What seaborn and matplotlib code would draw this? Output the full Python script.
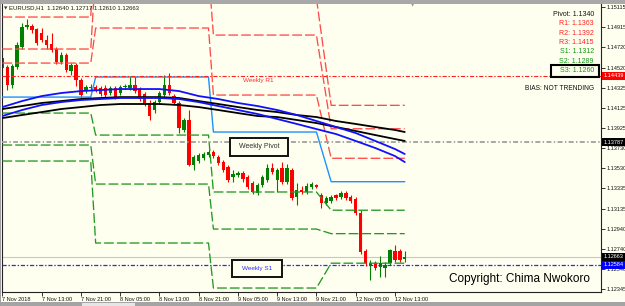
import matplotlib
matplotlib.use("Agg")
import matplotlib.pyplot as plt
from matplotlib.patches import Rectangle
import numpy as np
import pandas as pd
import seaborn as sns

# ---------------- data ----------------
bar_open = [1.14614, 1.14526, 1.14349, 1.14526, 1.14722, 1.14919, 1.14929, 1.14899, 1.14860, 1.14791,
            1.14752, 1.14703, 1.14575, 1.14644, 1.14487, 1.14546, 1.14398, 1.14290, 1.14320, 1.14330,
            1.14320, 1.14320, 1.14271, 1.14320, 1.14271, 1.14330, 1.14320, 1.14349, 1.14310, 1.14261,
            1.14173, 1.14104, 1.14182, 1.14251, 1.14349, 1.14241, 1.14173, 1.13908, 1.14006, 1.13564,
            1.13603, 1.13632, 1.13662, 1.13691, 1.13642, 1.13593, 1.13544, 1.13446, 1.13466, 1.13485,
            1.13446, 1.13387, 1.13289, 1.13367, 1.13416, 1.13534, 1.13416, 1.13534, 1.13397, 1.13515,
            1.13250, 1.13318, 1.13299, 1.13348, 1.13367, 1.13269, 1.13191, 1.13210, 1.13269, 1.13250,
            1.13289, 1.13250, 1.13230, 1.13093, 1.12719, 1.12581, 1.12601, 1.12562, 1.12553, 1.12601,
            1.12719, 1.12719, 1.12640]
bar_high = [1.14644, 1.14546, 1.14555, 1.14772, 1.14958, 1.14997, 1.14948, 1.14909, 1.14909, 1.14840,
            1.14860, 1.14722, 1.14673, 1.14664, 1.14565, 1.14565, 1.14418, 1.14349, 1.14359, 1.14349,
            1.14340, 1.14349, 1.14340, 1.14340, 1.14349, 1.14359, 1.14438, 1.14438, 1.14330, 1.14281,
            1.14202, 1.14202, 1.14290, 1.14448, 1.14467, 1.14261, 1.14192, 1.14025, 1.14104, 1.13662,
            1.13682, 1.13691, 1.13711, 1.13711, 1.13662, 1.13613, 1.13564, 1.13515, 1.13505, 1.13505,
            1.13466, 1.13407, 1.13387, 1.13466, 1.13574, 1.13583, 1.13534, 1.13593, 1.13574, 1.13534,
            1.13387, 1.13358, 1.13387, 1.13397, 1.13377, 1.13289, 1.13259, 1.13269, 1.13279, 1.13308,
            1.13308, 1.13269, 1.13250, 1.13122, 1.12739, 1.12631, 1.12621, 1.12670, 1.12611, 1.12739,
            1.12778, 1.12739, 1.12717]
bar_low = [1.14497, 1.14300, 1.14320, 1.14506, 1.14703, 1.14899, 1.14860, 1.14742, 1.14772, 1.14703,
           1.14673, 1.14555, 1.14555, 1.14477, 1.14448, 1.14340, 1.14202, 1.14271, 1.14300, 1.14281,
           1.14241, 1.14231, 1.14251, 1.14212, 1.14251, 1.14310, 1.14300, 1.14271, 1.14192, 1.14143,
           1.14006, 1.14074, 1.14163, 1.14231, 1.14251, 1.14153, 1.13878, 1.13888, 1.13554, 1.13515,
           1.13583, 1.13613, 1.13642, 1.13632, 1.13564, 1.13495, 1.13397, 1.13397, 1.13446, 1.13397,
           1.13328, 1.13279, 1.13269, 1.13348, 1.13397, 1.13475, 1.13299, 1.13377, 1.13377, 1.13220,
           1.13171, 1.13279, 1.13279, 1.13328, 1.13338, 1.13142, 1.13171, 1.13191, 1.13220, 1.13230,
           1.13220, 1.13191, 1.13073, 1.12690, 1.12572, 1.12434, 1.12533, 1.12463, 1.12463, 1.12581,
           1.12611, 1.12611, 1.12610]
bar_close = [1.14516, 1.14349, 1.14536, 1.14742, 1.14919, 1.14939, 1.14889, 1.14762, 1.14791, 1.14742,
             1.14693, 1.14575, 1.14644, 1.14497, 1.14546, 1.14398, 1.14251, 1.14330, 1.14330, 1.14300,
             1.14261, 1.14251, 1.14320, 1.14231, 1.14330, 1.14340, 1.14349, 1.14290, 1.14212, 1.14163,
             1.14045, 1.14182, 1.14271, 1.14349, 1.14271, 1.14173, 1.13927, 1.14006, 1.13564, 1.13642,
             1.13662, 1.13672, 1.13691, 1.13652, 1.13583, 1.13515, 1.13416, 1.13475, 1.13485, 1.13426,
             1.13348, 1.13299, 1.13367, 1.13446, 1.13534, 1.13495, 1.13515, 1.13397, 1.13534, 1.13240,
             1.13318, 1.13299, 1.13358, 1.13377, 1.13348, 1.13191, 1.13240, 1.13250, 1.13240, 1.13289,
             1.13240, 1.13210, 1.13093, 1.12709, 1.12601, 1.12601, 1.12553, 1.12601, 1.12581, 1.12729,
             1.12631, 1.12631, 1.12663]

# moving averages, read every 4 bars
ma_bar = [0, 4, 8, 12, 16, 20, 24, 28, 32, 36, 40, 44, 48, 52, 56, 60, 64, 68, 72, 76, 80, 82]
ma_blue_a = [1.14133, 1.14192, 1.14241, 1.14271, 1.14290, 1.14300, 1.14310, 1.14310, 1.14310, 1.14290, 1.14241,
             1.14212, 1.14173, 1.14143, 1.14104, 1.14055, 1.13996, 1.13937, 1.13878, 1.13800, 1.13721, 1.13672]
ma_blue_b = [1.14045, 1.14104, 1.14153, 1.14182, 1.14202, 1.14212, 1.14222, 1.14222, 1.14222, 1.14212, 1.14182,
             1.14143, 1.14104, 1.14065, 1.14016, 1.13967, 1.13917, 1.13868, 1.13800, 1.13731, 1.13652, 1.13593]
ma_black_a = [1.14114, 1.14143, 1.14173, 1.14192, 1.14212, 1.14222, 1.14231, 1.14231, 1.14231, 1.14222, 1.14192,
              1.14163, 1.14133, 1.14104, 1.14084, 1.14055, 1.14035, 1.13996, 1.13967, 1.13937, 1.13908, 1.13888]
ma_black_b = [1.14025, 1.14055, 1.14084, 1.14114, 1.14133, 1.14153, 1.14163, 1.14163, 1.14163, 1.14153, 1.14133,
              1.14104, 1.14074, 1.14045, 1.14035, 1.14006, 1.13976, 1.13937, 1.13898, 1.13858, 1.13819, 1.13800]

# daily pivot levels (one value per day)
day_first_bar = [0, 19, 43, 67]
day_last_bar = [18, 42, 64, 82]
day_pivot = [1.14231, 1.14428, 1.13888, 1.1340]
day_r1 = [1.14565, 1.14909, 1.14251, 1.1363]
day_r2 = [1.14703, 1.15480, 1.14840, 1.1392]
day_r3 = [1.15017, 1.15960, 1.15200, 1.1415]
day_s1 = [1.14074, 1.13858, 1.13299, 1.1312]
day_s2 = [1.13760, 1.13377, 1.12935, 1.1289]
day_s3 = [1.13603, 1.12798, 1.12356, 1.1260]

weekly_r1 = 1.14439
weekly_pivot = 1.13787
weekly_s1 = 1.12584
last_price = 1.12663

price_ticks = [1.15115, 1.14915, 1.14720, 1.14520, 1.14325, 1.14125, 1.13925, 1.13730,
               1.13530, 1.13335, 1.13135, 1.12940, 1.12740, 1.12540, 1.12345]
time_tick_bars = [0, 8, 16, 24, 32, 40, 48, 56, 64, 72, 80]
time_tick_labels = ["7 Nov 2018", "7 Nov 13:00", "7 Nov 21:00", "8 Nov 05:00", "8 Nov 13:00",
                    "8 Nov 21:00", "9 Nov 05:00", "9 Nov 13:00", "9 Nov 21:00", "12 Nov 05:00",
                    "12 Nov 13:00"]
header_text = "EURUSD,H1  1.12640 1.12717 1.12610 1.12663"
panel_texts = ["Pivot: 1.1340", "R1: 1.1363", "R2: 1.1392", "R3: 1.1415",
               "S1: 1.1312", "S2: 1.1289", "S3: 1.1260"]
panel_colors = ["#111111", "#ff2020", "#ff2020", "#ff2020", "#119911", "#119911", "#119911"]
bias_text = "BIAS: NOT TRENDING"
copyright_text = "Copyright: Chima Nwokoro"

# ---------------- style ----------------
BG = "#fffff0"
sns.set_style("ticks", {"axes.facecolor": BG, "figure.facecolor": BG})
plt.rcParams["font.family"] = ["Liberation Sans", "DejaVu Sans"]
plt.rcParams["lines.scale_dashes"] = False

fig = plt.figure(figsize=(6.25, 3.06), dpi=100, facecolor=BG)
ax = fig.add_axes([2 / 625, 14 / 306, 599 / 625, 288 / 306])
ax.set_facecolor(BG)

# candles
bars = pd.DataFrame({"o": bar_open, "h": bar_high, "l": bar_low, "c": bar_close})
bars["i"] = np.arange(len(bars))
up = bars["c"] >= bars["o"]
col = np.where(up, "#008000", "#ff0000")
ax.vlines(bars["i"], bars["l"], bars["h"], colors=col, lw=0.8, zorder=2)
body_h = np.maximum((bars["c"] - bars["o"]).abs(), 0.00003)
ax.bar(bars["i"], body_h, bottom=np.minimum(bars["o"], bars["c"]), width=0.68,
       color=col, linewidth=0, zorder=2)

# daily pivot levels
def level_line(vals, color, ls, lw):
    xs, ys = [], []
    for d in range(len(vals)):
        xs += [day_first_bar[d], day_last_bar[d]]
        ys += [vals[d], vals[d]]
    sns.lineplot(x=xs, y=ys, ax=ax, color=color, linestyle=ls, lw=lw,
                 estimator=None, sort=False, zorder=3)

dash = (0, (7.0, 2.2))
for v in (day_r1, day_r2, day_r3):
    level_line(v, "#ff4a4a", dash, 0.95)
for v in (day_s1, day_s2, day_s3):
    level_line(v, "#229922", dash, 0.95)
level_line(day_pivot, "#1e90ff", "-", 1.0)

# weekly levels
ax.axhline(weekly_r1, color="#ff2020", lw=0.8, ls=(0, (3.0, 1.3, 1.0, 1.3)), zorder=3)
ax.axhline(weekly_pivot, color="#a0a0a0", lw=1.3, ls=(0, (3.6, 1.7, 1.0, 1.7)), zorder=3)
ax.axhline(weekly_s1, color="#2828ff", lw=0.9, ls=(0, (3.0, 1.3, 1.0, 1.3)), zorder=3)
ax.axhline(last_price, color="#c8c8c8", lw=0.8, zorder=1.5)

# moving averages
ma = pd.DataFrame({"bar": ma_bar, "blue_a": ma_blue_a, "blue_b": ma_blue_b,
                   "black_a": ma_black_a, "black_b": ma_black_b})
for name, color in (("black_a", "#000000"), ("black_b", "#000000"),
                    ("blue_a", "#1010ff"), ("blue_b", "#1010ff")):
    sns.lineplot(data=ma, x="bar", y=name, ax=ax, color=color, lw=1.3,
                 estimator=None, sort=False, zorder=3.5)

ax.set_xlabel("")
ax.set_ylabel("")
ax.set_xlim(-0.09, 122.0)
ax.set_ylim(1.12317, 1.15145)

# axes / ticks
ax.yaxis.tick_right()
ax.set_yticks(price_ticks)
ax.set_yticklabels([f"{p:.5f}" for p in price_ticks])
ax.tick_params(axis="y", right=True, left=False, length=3, width=0.6, pad=0.8,
               labelsize=4, colors="#111111")
ax.set_xticks(time_tick_bars)
ax.set_xticklabels(time_tick_labels, ha="left")
ax.tick_params(axis="x", length=3, width=0.6, pad=0.8, labelsize=4, colors="#111111")
for s in ("left", "right", "bottom"):
    ax.spines[s].set_visible(True)
    ax.spines[s].set_color("#222222")
    ax.spines[s].set_linewidth(0.8)
ax.spines["top"].set_visible(False)

# weekly labels
ax.text(0.4274, 0.736, "Weekly R1", transform=ax.transAxes, color="#ff3030",
        fontsize=4.6, ha="center", va="center", zorder=6)
ax.add_patch(Rectangle((0.3806, 0.4722), 0.0969, 0.0625, transform=ax.transAxes,
                       fc=BG, ec="#111111", lw=1.4, zorder=5))
ax.text(0.429, 0.5035, "Weekly Pivot", transform=ax.transAxes, color="#303030",
        fontsize=5, ha="center", va="center", zorder=6)
ax.add_patch(Rectangle((0.384, 0.0521), 0.0834, 0.059, transform=ax.transAxes,
                       fc=BG, ec="#111111", lw=1.4, zorder=5))
ax.text(0.4257, 0.0799, "Weekly S1", transform=ax.transAxes, color="#3030ff",
        fontsize=4.6, ha="center", va="center", zorder=6)

# right panel
panel_y = [0.962, 0.931, 0.899, 0.866, 0.834, 0.802, 0.768]
for t, c, y in zip(panel_texts, panel_colors, panel_y):
    ax.text(0.988, y, t, transform=ax.transAxes, color=c, fontsize=5,
            ha="right", va="center", zorder=6)
ax.add_patch(Rectangle((0.9165, 0.7465), 0.0802, 0.0415, transform=ax.transAxes,
                       fill=False, ec="#000000", lw=1.5, zorder=6))
ax.text(0.988, 0.705, bias_text, transform=ax.transAxes, color="#111111", fontsize=4.8,
        ha="right", va="center", zorder=6)

# header and copyright
ax.text(0.004, 0.986, "\u25BC", transform=ax.transAxes, fontsize=3.2, color="#333333",
        family="DejaVu Sans", ha="left", va="center", zorder=6)
ax.text(0.011, 0.986, header_text, transform=ax.transAxes, fontsize=4.3, color="#1a1a1a",
        ha="left", va="center", zorder=6)
ax.text(0.686, 0.995, "\u25BC", transform=ax.transAxes, fontsize=3, color="#909090",
        family="DejaVu Sans", ha="center", va="center", zorder=6, clip_on=False)
ax.text(0.9816, 0.045, copyright_text, transform=ax.transAxes, fontsize=8.5, color="#000000",
        ha="right", va="center", zorder=6)

# price tags on the right scale
ytr = ax.get_yaxis_transform()
for val, fc in ((weekly_r1, "#ff0000"), (weekly_pivot, "#000000"),
                (last_price, "#000000"), (weekly_s1, "#0000ff")):
    ax.text(1.004, val, f"{val:.5f}", transform=ytr, fontsize=4, color="white",
            ha="left", va="center", clip_on=False, zorder=10,
            bbox=dict(boxstyle="square,pad=0.25", fc=fc, ec="none"))

# window chrome
fig.add_artist(Rectangle((0, 302 / 306), 1, 4 / 306, transform=fig.transFigure,
                         fc="#a8a8a8", ec="none", zorder=20))
fig.add_artist(Rectangle((0, 0), 1, 4 / 306, transform=fig.transFigure,
                         fc="#a4a4a4", ec="none", zorder=20))
fig.add_artist(Rectangle((82 / 625, 0), 53 / 625, 3 / 306, transform=fig.transFigure,
                         fc="#e6e6e6", ec="none", zorder=21))
fig.add_artist(Rectangle((0, 0), 1.5 / 625, 1, transform=fig.transFigure,
                         fc="#a0a0a0", ec="none", zorder=20))

fig.savefig("out.png", dpi=100, facecolor=BG)
